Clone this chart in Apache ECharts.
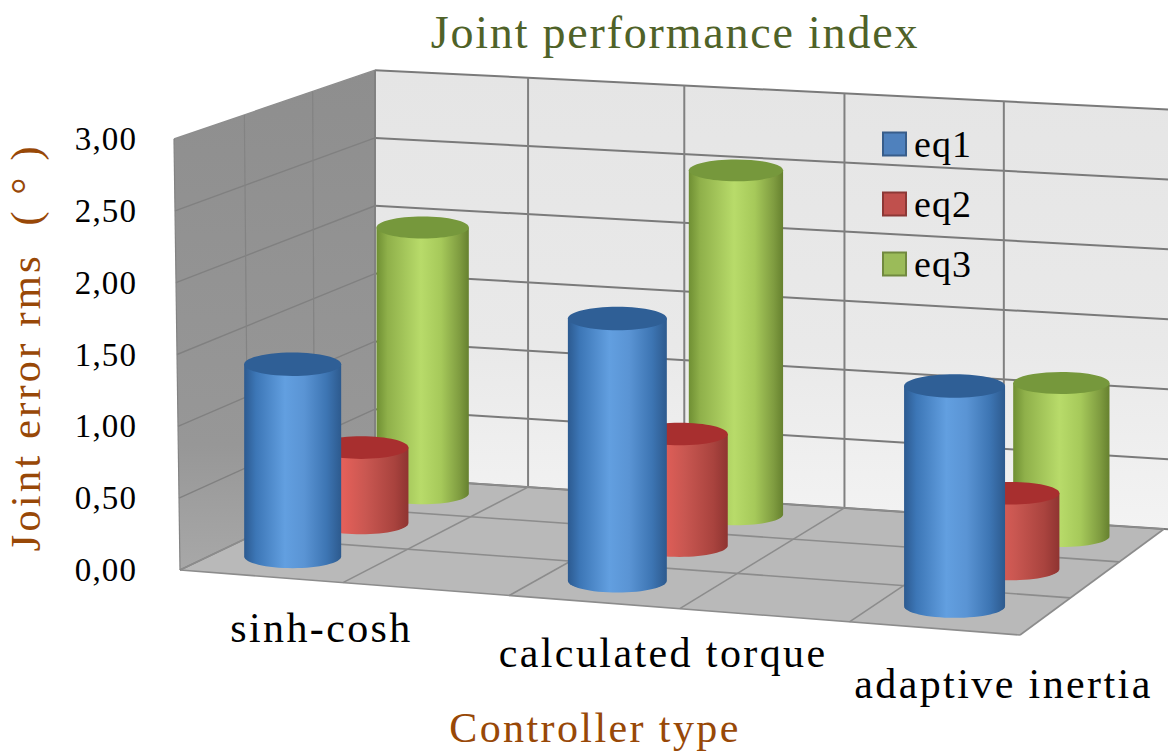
<!DOCTYPE html>
<html>
<head>
<meta charset="utf-8">
<style>
html,body{margin:0;padding:0;background:#fff}
#c{width:1168px;height:752px}
#c text{letter-spacing:1.1px}
#c text[style*="46px"]{letter-spacing:1.8px}
#c text[style*="42px"]{letter-spacing:2.4px}
#c text[style*="43px"]{letter-spacing:3px}
</style>
<script src="https://cdn.jsdelivr.net/npm/echarts@6/dist/echarts.min.js"></script>
</head>
<body>
<div id="c"></div>
<script>
const categories = ['sinh-cosh', 'calculated torque', 'adaptive inertia'];
const eq1 = [1.35, 1.82, 1.51];
const eq2 = [0.54, 0.79, 0.53];
const eq3 = [1.94, 2.48, 1.09];
const yTicks = ['0,00', '0,50', '1,00', '1,50', '2,00', '2,50', '3,00'];
const chartTitle = 'Joint performance index';
const yName = 'Joint error rms  ( ° )';
const xName = 'Controller type';

const FONT = '"Liberation Serif", serif';
const X_MIN = -0.22, X_MAX = 2.295, Y_MAX = 3;
const SLOT_X = [0, 0.984, 2.006];
const LABEL_DX = [68, 81, 80];
const LABEL_DY = [52, 52, 56];
const DEPTH = { eq1: 0.205, eq2: 0.56, eq3: 0.875 };
const COLUMN_U = [0, 0.194, 0.392, 0.595, 0.797];
const WALL_END = 1.006;
const DEPTH_LINES = [0, 0.35, 0.69, 1];
const lerp = (a, b, t) => a + (b - a) * t;

// perspective of the floor and walls, on top of the axes' own scales
function project(api, x, d, h) {
  const o = api.coord([X_MIN, 0]), e = api.coord([X_MAX, 0]);
  const u = (api.coord([x, 0])[0] - o[0]) / (e[0] - o[0]);
  const fx = lerp(o[0] + (e[0] - o[0]) * u, 375 + 789 * u, d);
  const fy = lerp(o[1] + 65 * u, 477 + 52 * u, d);
  const s = lerp(lerp(1, 1.03, u), lerp(0.944, 0.974, u), d);
  const py = o[1] - api.coord([X_MIN, h])[1];
  return { x: fx, y: fy - py * s, baseY: fy, u, d, s };
}
const xOf = u => X_MIN + (X_MAX - X_MIN) * u;
function wallPoint(api, u, d, h) {
  const p = project(api, xOf(u), d, h);
  return [p.x - 2 * h * (1 - d) * (1 - u), p.y];
}
function grad(stops, vertical) {
  return new echarts.graphic.LinearGradient(0, 0, vertical ? 0 : 1, vertical ? 1 : 0,
    stops.map(s => ({ offset: s[0], color: s[1] })));
}
function gridLine(a, b, color, w) {
  return { type: 'line', shape: { x1: a[0], y1: a[1], x2: b[0], y2: b[1] }, style: { stroke: color, lineWidth: w } };
}

function renderWalls(params, api) {
  const kids = [];
  const P = (u, d, h) => wallPoint(api, u, d, h);
  kids.push({ type: 'polygon', shape: { points: [P(0, 1, 0), P(WALL_END, 1, 0), P(WALL_END, 1, Y_MAX), P(0, 1, Y_MAX)] },
    style: { fill: grad([[0, '#e5e5e5'], [0.6, '#e9e9e9'], [1, '#f3f3f3']], true) } });
  kids.push({ type: 'polygon', shape: { points: [P(0, 0, 0), P(0, 1, 0), P(0, 1, Y_MAX), P(0, 0, Y_MAX)] },
    style: { fill: grad([[0, '#8e8e8e'], [0.75, '#979797'], [1, '#a8a8a8']], true) } });
  kids.push({ type: 'polygon', shape: { points: [P(0, 0, 0), P(1, 0, 0), P(1, 1, 0), P(0, 1, 0)] },
    style: { fill: '#b9b9b9' } });
  for (let t = 0; t <= 6; t++) {
    const h = t * 0.5;
    kids.push(gridLine(P(0, 1, h), P(WALL_END, 1, h), '#7a7a7a', 2));
    kids.push(gridLine(P(0, 0, h), P(0, 1, h), t === 6 ? '#8e8e8e' : '#808080', 1.4));
  }
  COLUMN_U.concat([1]).forEach(u => {
    if (u < 1) kids.push(gridLine(P(u, 1, 0), P(u, 1, Y_MAX), '#808080', 2));
    kids.push(gridLine(P(u, 0, 0), P(u, 1, 0), '#8c8c8c', 1.6));
  });
  DEPTH_LINES.forEach(d => {
    kids.push(gridLine(P(0, d, 0), P(1, d, 0), '#8c8c8c', 1.6));
    kids.push(gridLine(P(0, d, 0), P(0, d, Y_MAX), '#838383', 1.2));
  });
  return { type: 'group', children: kids };
}

function renderLabels(params, api) {
  const i = api.value(0);
  const p = project(api, SLOT_X[i], 0, 0);
  return { type: 'text', style: {
    text: categories[i], x: p.x + LABEL_DX[i], y: p.baseY + LABEL_DY[i], align: 'center', verticalAlign: 'middle',
    font: '42px ' + FONT, fill: '#000' } };
}

function cylinder(depth, colors) {
  return function (params, api) {
    const i = api.value(0), v = api.value(1);
    const base = project(api, SLOT_X[i], depth, 0), top = project(api, SLOT_X[i], depth, v);
    const cx = base.x + depth * depth * (2.6 + 7 * base.u);
    const rx = (98 + 5 * base.u - 7 * depth) / 2;
    const ry = 12 - depth * 1.2;
    const pts = [[cx - rx, top.y], [cx + rx, top.y]];
    for (let k = 0; k <= 32; k++) {
      const a = Math.PI * k / 32;
      pts.push([cx + rx * Math.cos(a), base.y + ry * Math.sin(a)]);
    }
    return { type: 'group', children: [
      { type: 'polygon', shape: { points: pts }, style: { fill: grad(colors.body) } },
      { type: 'ellipse', shape: { cx, cy: top.y, rx, ry }, style: { fill: colors.top } }
    ] };
  };
}

const BLUE = { legend: '#4f81bd', border: '#385d8a', top: '#2f5f96', body: [[0, '#2c5a90'], [0.12, '#3c76b6'], [0.42, '#629fe0'], [0.62, '#5a94d4'], [0.85, '#3d75b3'], [1, '#2d5a8e']] };
const RED = { legend: '#c0504d', border: '#8c3836', top: '#a82f2f', body: [[0, '#c84f4a'], [0.25, '#ea625b'], [0.55, '#c95751'], [0.85, '#a9433e'], [1, '#8f3431']] };
const GREEN = { legend: '#9bbb59', border: '#71893f', top: '#76983c', body: [[0, '#6f8f33'], [0.12, '#8fb04a'], [0.48, '#b8db6a'], [0.7, '#a6c95a'], [0.9, '#7f9c40'], [1, '#66812f']] };

function seriesFor(name, values, depth, colors, z) {
  return { name, type: 'custom', z, coordinateSystem: 'cartesian2d',
    itemStyle: { color: colors.legend, borderColor: colors.border, borderWidth: 1.5 },
    encode: { x: 0, y: 1 }, renderItem: cylinder(depth, colors),
    data: values.map((v, i) => [i, v]) };
}

const chart = echarts.init(document.getElementById('c'), null, { renderer: 'svg' });
chart.setOption({
  animation: false,
  backgroundColor: '#fff',
  title: { text: chartTitle, left: 670, top: 4, textAlign: 'center',
    textStyle: { fontFamily: FONT, fontSize: 46, fontWeight: 'normal', color: '#4f6228' } },
  legend: { orient: 'vertical', left: 877, top: 120, itemWidth: 23, itemHeight: 23, itemGap: 22, icon: 'rect',
    textStyle: { fontFamily: FONT, fontSize: 38, color: '#000', padding: [0, 0, 0, 3] },
    data: [{ name: 'eq1' }, { name: 'eq2' }, { name: 'eq3' }] },
  grid: { left: 180, top: 139, width: 840, height: 431, outerBoundsMode: 'none' },
  xAxis: { type: 'value', min: X_MIN, max: X_MAX, name: xName, nameLocation: 'middle', nameGap: 137,
    nameTextStyle: { fontFamily: FONT, fontSize: 42, color: '#984807', padding: [0, 10, 0, 0] },
    axisLine: { show: false }, axisTick: { show: false }, axisLabel: { show: false }, splitLine: { show: false } },
  yAxis: { type: 'value', min: 0, max: Y_MAX, interval: 0.5, offset: 5, name: yName, nameLocation: 'middle', nameGap: 116,
    nameTextStyle: { fontFamily: FONT, fontSize: 43, color: '#984807', padding: [0, 0, 12, 14] },
    axisLine: { show: false }, splitLine: { show: false },
    axisTick: { show: true, length: 13, lineStyle: { color: '#808080', width: 1.5 } },
    axisLabel: { margin: 38, fontFamily: FONT, fontSize: 33, color: '#000',
      formatter: (v) => yTicks[Math.round(v / 0.5)] } },
  series: [
    { type: 'custom', name: 'walls', z: 1, renderItem: renderWalls, data: [[0, 0]], silent: true },
    seriesFor('eq3', eq3, DEPTH.eq3, GREEN, 2),
    seriesFor('eq2', eq2, DEPTH.eq2, RED, 3),
    seriesFor('eq1', eq1, DEPTH.eq1, BLUE, 4),
    { type: 'custom', name: 'labels', z: 5, renderItem: renderLabels, silent: true,
      data: categories.map((c, i) => [i, 0]) }
  ]
});
</script>
</body>
</html>
